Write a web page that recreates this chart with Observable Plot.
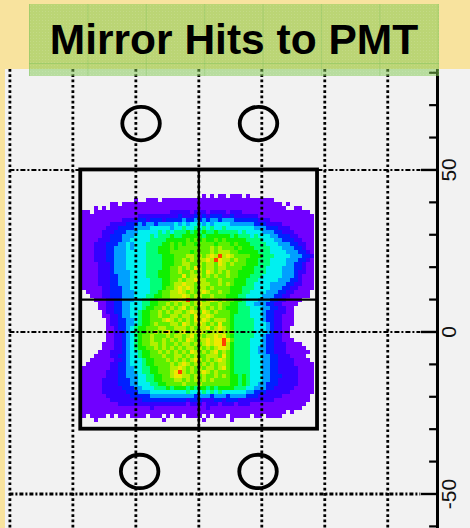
<!DOCTYPE html>
<html><head><meta charset="utf-8">
<script src="https://cdn.jsdelivr.net/npm/d3@7"></script>
<script src="https://cdn.jsdelivr.net/npm/@observablehq/plot@0.6"></script>
<style>
html,body{margin:0;padding:0;background:#f8e39e;width:470px;height:528px;overflow:hidden}
#chart{position:absolute;left:5px;top:69px}
#chart svg{display:block;background:#f2f2f2}
#title{position:absolute;left:29px;top:4px;width:410px;height:72px;box-sizing:border-box;
 background-color:rgba(125,200,75,.5);
 background-image:linear-gradient(90deg,rgba(120,190,90,.35) 1px,transparent 1px),
 linear-gradient(0deg,transparent 12px,rgba(120,190,90,.4) 12px,rgba(120,190,90,.4) 13px,transparent 13px),
 radial-gradient(rgba(255,255,255,.12) .7px,transparent .8px);
 background-size:58.4px 72px,100% 100%,3px 3px;background-position:0 0,0 0,0 0;
 font:bold 42.5px "Liberation Sans",Arial,sans-serif;color:#000;text-align:center;line-height:72px;white-space:nowrap}
</style></head><body>
<div id="chart"></div>
<div id="title">Mirror Hits to PMT</div>
<script>
const xGrid = [-60,-40,-20,0,20,40,60];
const yGrid = [50,0];
const yGridHeavy = [-50];
const yMinor = [80,70,60,40,30,20,10,-10,-20,-30,-40,-60];
const yMajor = [50,0,-50];
const boxX = [-37.5,37.7];
const boxY = [-30,50];
const crossX = [0];
const crossY = [10];
const ringX = [-18.35,18.95,-18.8,18.8];
const ringY = [64.3,64.3,-43.05,-43.05];
const levels = ["1","2","3","4","5","6","7","8","9","a","b"];
const levelColors = ["#7000ff","#3400ff","#0020ff","#00a0ff","#00f0f0","#00ff78","#10f000","#5cf000","#b4f000","#f0e800","#ff4000"];
const heatLeft = -37.05, heatTop = 42.4, cellW = 1.27, cellH = 1.2346;
const heatRows = [
"000000000000000000000000 000000101011011101 0000000000000000",
"000000000000010011101111 111111111111111111 1111110000000000",
"000000011011111111111111 111111111111111111 1111111101000000",
"000101011111111111111111 111111111111111111 1111111110011000",
"110111111111111111111122 222122212222122211 1111111111111110",
"111111111111112222222222 322232323332232222 2211111111111111",
"111111111122223323332333 343343434434443333 3322211111111111",
"111111122223334344344445 454555454555544444 4333222211111111",
"111111222333344445555545 565565656556555555 5444333222111111",
"111112223334445555565656 667676766766666565 5554443322211111",
"111112233344455556566676 677777677777767666 5655544333221111",
"111122233344555556666777 778787877878777776 6665554433322111",
"111222333445455566667787 878878888788878777 6666555444332211",
"111222334445455566677787 888888889898887877 7666655544433211",
"111222334445555566677788 888788889899988777 7766655554443321",
"111222334445555566667778 88998989a9b9a98888 7776665555444332",
"111222334445555566667778 8989899a9ba9989887 7766655554443321",
"111122234445555566667778 8998898998a9898887 7766655554433211",
"111122234445555566667788 9898a9899899888877 7666555544433211",
"111122234444555566677788 9889898a9898988777 7666555544432211",
"111122233444555566677788 8a89998989889887 7766655555444 32111",
"111122233444555556667788 9899a99888988877 7666555554443 32111",
"111122233444555556667789 9a99899988989877 7665555444433 22111",
"111112233344555556667889 a9a9899898888777 6665555444332 21111",
"011112233344455556678899 a98989a988988777 6655554443322 11110",
"001112233344455566778899 9a98998898887776 6555544433221 11110",
"000111223344455667788899 a9b89989a9898877 6555444332211 11000",
"000011223344555667788989 89989a9988988776 6554443322111 10000",
"000011223344555677889898 9a89899898987776 6655544332211 00000",
"000001223344556778898989 989a98a989888776 6655543322211 00000",
"000001122344556778898899 8998a99a98888766 6655543322111 00000",
"000000122334456778889a98 9898a9a989998766 6665543322111 00000",
"000000122334456778988899 8a989a9898a88766 6665554322111 00000",
"000000112334567788899889 9989899a89a98766 6665554322110 00000",
"000000112234567788989a88 9a899a9899a98866 6665554322110 00000",
"000000112234567889888989 989a89899a9a8766 6665543322110 00000",
"000000112234567889889898 98a9899a9aaba866 6655543322111 00000",
"000001112234567889989889 8998989a9aab9766 6655543322211 11000",
"000001112234567788989898 9899898989aa9766 6655443322211 11100",
"000011122234556778898989 898a98989a898766 6655443322211 11110",
"000111122334556778889889 98989889998a8766 6655544332221 11100",
"001111112234555677888989 8989a98989a98766 6655544332222 11110",
"011111122334555677888898 9a98989898998766 6655544332222 11111",
"111111122334455667788899 a9898989989a8766 6655544332222 21111",
"11111122233445566778889a b98989a989888766 6655544332222 21111",
"11111122233444556677889a a998989889898776 7655544333222 21111",
"111112222333445566778889 9898989898888776 7655544332222 21111",
"111112222333445556677888 8988898888888776 7655443332222 21111",
"111112222233344555666767 7767677676777766 6554443322222 11111",
"111112222223334445555555 5565556565655555 5443332222221 11111",
"111111222222333334444444 4444344434443444 4333222222111 11110",
"111111122222222333333333 3323332223323332 2222222211111 11110",
"111111111222222222222222 2212221222122212 2211111111111 11100",
"111111111111111112111111 1111111211111111 1111111111111 11000",
"111111111111111111111111 1111111111111111 1111111111101 00000",
"101111010110111101110101 1011110101110111 1101101111000 00000",
"000100000000000000001000 0000001000000100 0000000000000 00000"
];
const heat = heatRows.flatMap((row,r)=>row.replace(/ /g,"").split("").map((v,c)=>({v,c,r}))).filter(d=>d.v!=="0");
const ellipse = {draw(ctx,size){
  const r=Math.sqrt(size/Math.PI), rx=r*1.06, ry=r*.945, k=.5523;
  ctx.moveTo(rx,0);
  ctx.bezierCurveTo(rx,k*ry,k*rx,ry,0,ry);
  ctx.bezierCurveTo(-k*rx,ry,-rx,k*ry,-rx,0);
  ctx.bezierCurveTo(-rx,-k*ry,-k*rx,-ry,0,-ry);
  ctx.bezierCurveTo(k*rx,-ry,rx,-k*ry,rx,0);
  ctx.closePath();
}};
const rings = ringX.map((x,i)=>({x,y:ringY[i]}));
const chart = Plot.plot({
  width:465,height:459,marginLeft:0,marginTop:0,marginBottom:0,marginRight:33,
  style:{background:"#f2f2f2",overflow:"visible"},
  x:{domain:[-61.4,75.8],axis:null},
  y:{domain:[-60.65,81],axis:null},
  color:{type:"ordinal",domain:levels,range:levelColors},
  marks:[
    Plot.rect(heat,{x1:d=>heatLeft+d.c*cellW,x2:d=>heatLeft+(d.c+1)*cellW,
      y1:d=>heatTop-d.r*cellH,y2:d=>heatTop-(d.r+1)*cellH,fill:"v",shapeRendering:"crispEdges"}),
    Plot.ruleX(xGrid,{stroke:"#000",strokeWidth:2.8,strokeDasharray:"2.7 2.6"}),
    Plot.ruleY(yGrid,{x1:-60,x2:70.5,stroke:"#000",strokeWidth:2,strokeDasharray:"5 2 2 2"}),
    Plot.ruleY(yGridHeavy,{x1:-60,x2:70.5,stroke:"#000",strokeWidth:3,strokeDasharray:"4 2 2 2"}),
    Plot.rect([0],{x1:()=>boxX[0],x2:()=>boxX[1],y1:()=>boxY[0],y2:()=>boxY[1],fill:"none",stroke:"#000",strokeWidth:3.8}),
    Plot.ruleX(crossX,{y1:boxY[0],y2:boxY[1],stroke:"#000",strokeWidth:2.2}),
    Plot.ruleY(crossY,{x1:boxX[0],x2:boxX[1],stroke:"#000",strokeWidth:2.2}),
    Plot.dot(rings,{x:"x",y:"y",r:17.7,symbol:ellipse,fill:"none",stroke:"#000",strokeWidth:3.8}),
    Plot.ruleX([75.8],{stroke:"#000",strokeWidth:3}),
    Plot.ruleY(yMinor,{x1:73.3,x2:75.8,stroke:"#000",strokeWidth:2.2}),
    Plot.ruleY(yMajor,{x1:70.7,x2:75.8,stroke:"#000",strokeWidth:2.4}),
    Plot.axisY({anchor:"right",ticks:yMajor,tickSize:0,tickPadding:18,tickRotate:-90,
      fontSize:21,fontFamily:"Liberation Sans",tickFormat:d=>d<0?"-"+Math.abs(d):String(d),label:null,fill:"#111",stroke:"#111",strokeWidth:.4})
  ]
});
document.getElementById("chart").appendChild(chart);
</script>
</body></html>
